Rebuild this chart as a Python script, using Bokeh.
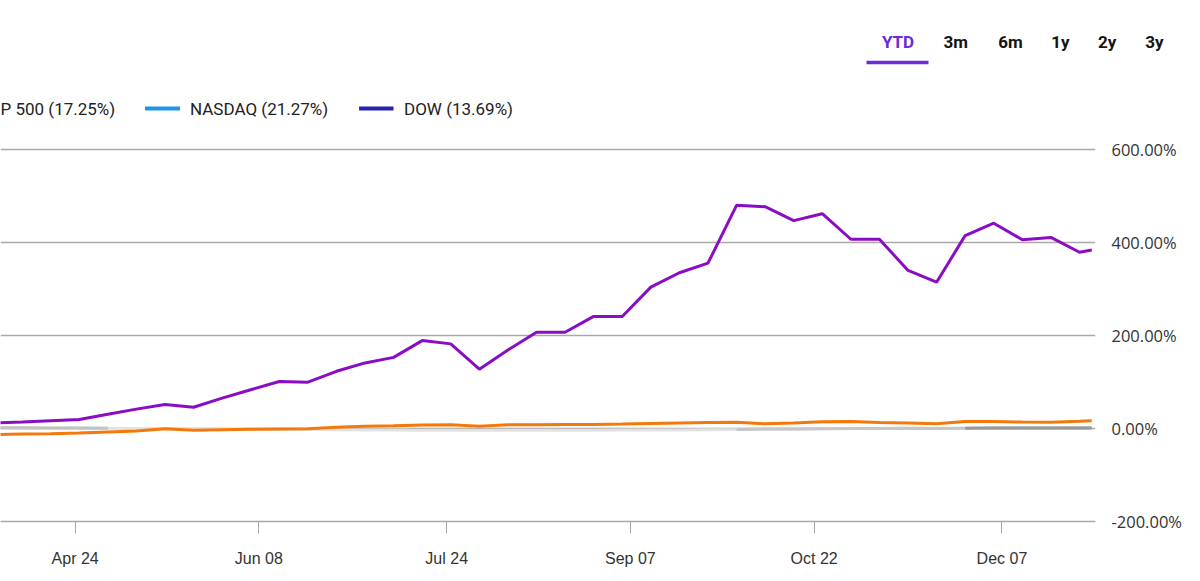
import datetime as dt
import pandas as pd
from bokeh.plotting import figure
from bokeh.models import Range1d, FixedTicker, PrintfTickFormatter, DatetimeTickFormatter
from bokeh.core.properties import value
from bokeh.embed import file_html
from bokeh.resources import INLINE

# ---------------- data ----------------
dates = ["2023-04-04", "2023-04-11", "2023-04-18", "2023-04-25",
         "2023-05-02", "2023-05-09", "2023-05-16", "2023-05-23", "2023-05-30",
         "2023-06-06", "2023-06-13", "2023-06-20", "2023-06-27",
         "2023-07-04", "2023-07-11", "2023-07-18", "2023-07-25",
         "2023-08-01", "2023-08-08", "2023-08-15", "2023-08-22", "2023-08-29",
         "2023-09-05", "2023-09-12", "2023-09-19", "2023-09-26",
         "2023-10-03", "2023-10-10", "2023-10-17", "2023-10-24", "2023-10-31",
         "2023-11-07", "2023-11-14", "2023-11-21", "2023-11-28",
         "2023-12-05", "2023-12-12", "2023-12-19", "2023-12-26", "2023-12-29"]

purple_vals = [11.8, 14.2, 16.8, 19.4,
               30.8, 41.7, 51.6, 45.8, 65.2,
               83.4, 101, 99.6, 123,
               141, 153, 189, 182,
               127.5, 168.6, 207, 207, 241,
               241, 304, 335, 355.5,
               480, 477, 447, 462, 407,
               407, 340, 314.6, 415,
               441.5, 406, 411, 379, 384]

orange_vals = [-13.5, -12, -11.4, -9.5,
               -7.5, -5.5, -0.6, -3.6, -2.5,
               -1.5, -1, -0.6, 2.9,
               5, 6, 7.5, 8,
               5, 8, 8.2, 8.4, 8.6,
               9.5, 11, 12, 13,
               13.6, 10, 12, 14.3, 15,
               13, 12, 10, 15,
               15, 14, 13.6, 15.5, 16.5]

gray_vals = [1.5, 1.5, 1.2, 1.0,
             0.5, 0, -0.5, -1, -1.5,
             -2, -2, -2, -2.5,
             -3, -3, -3.5, -4,
             -4, -4, -4, -4, -3.5,
             -3, -3, -3, -2.5,
             -2, -1, -1, -0.5, 0,
             0, 0.5, 0, 0.5,
             1, 1, 1, 1, 1]

tick_dates = ["2023-04-24", "2023-06-08", "2023-07-24", "2023-09-07", "2023-10-22", "2023-12-07"]
y_ticks = [-200, 0, 200, 400, 600]

range_labels = ["YTD", "3m", "6m", "1y", "2y", "3y"]
legend_labels = ["P 500 (17.25%)", "NASDAQ (21.27%)", "DOW (13.69%)"]

x = [pd.Timestamp(d) for d in dates]

# ---------------- header (legend + range buttons) ----------------
W = 1184
HH = 130
h = figure(width=W, height=HH, x_range=Range1d(0, W), y_range=Range1d(HH, 0),
           output_backend="svg", toolbar_location=None, min_border=0,
           x_axis_location=None, y_axis_location=None, outline_line_color=None)
h.grid.visible = False
h.min_border_left = h.min_border_right = h.min_border_top = h.min_border_bottom = 0

btn_x = [897.5, 955.3, 1010, 1060, 1106.7, 1154]
btn_colors = ["#6a2bd9"] + ["#141414"] * 5
h.text(x=btn_x, y=[41.5] * 6, text=range_labels, text_align="center", text_baseline="middle",
       text_font=value("Roboto"), text_font_size="17px", text_font_style="bold",
       text_color=btn_colors)
h.segment(x0=[866], y0=[62], x1=[928], y1=[62], line_color="#6a2bd9", line_width=3.5,
          line_cap="butt")

# legend
h.segment(x0=[144.5, 358.6], y0=[108, 108], x1=[179.6, 393], y1=[108, 108],
          line_color=["#1e96e8", "#2323b0"], line_width=4, line_cap="butt")
h.text(x=[0, 189.5, 403.5], y=[108, 108, 108], text=legend_labels, text_align="left",
       text_baseline="middle", text_font=value("Roboto"), text_font_size="17px",
       text_color="#222222")

# ---------------- chart ----------------
top_b, bot_b, right_b = 10, 52, 84
frame_h = 521 - (HH + top_b)
CH = top_b + frame_h + bot_b
px_per_pct = 93 / 200.0
y0 = -200
y1 = y0 + frame_h / px_per_pct

ref = dt.datetime(2023, 4, 24)
ppd = 931 / 227.0
x_start = ref - dt.timedelta(days=75 / ppd)
x_end = ref + dt.timedelta(days=(W - right_b - 75) / ppd)

p = figure(width=W, height=CH, x_axis_type="datetime", y_axis_location="right",
           x_range=Range1d(x_start, x_end), y_range=Range1d(y0, y1),
           output_backend="svg", toolbar_location=None,
           min_border_top=top_b, min_border_bottom=bot_b, min_border_left=0,
           min_border_right=right_b, outline_line_color=None)

p.xgrid.visible = False
p.ygrid.grid_line_color = "#a8a8a8"
p.ygrid.grid_line_width = 1.5
p.ygrid.ticker = FixedTicker(ticks=y_ticks)

ya = p.yaxis[0]
ya.ticker = FixedTicker(ticks=y_ticks)
ya.formatter = PrintfTickFormatter(format="%.2f%%")
ya.axis_line_color = None
ya.major_tick_line_color = None
ya.minor_tick_line_color = None
ya.major_label_standoff = 10
ya.major_label_text_font = "Open Sans"
ya.major_label_text_font_size = "16.5px"
ya.major_label_text_color = "#333333"

xa = p.xaxis[0]
xa.ticker = FixedTicker(ticks=[pd.Timestamp(d).value / 1e6 for d in tick_dates])
fmt = "%b %d"
xa.formatter = DatetimeTickFormatter(milliseconds=fmt, seconds=fmt, minsec=fmt, minutes=fmt,
                                     hourmin=fmt, hours=fmt, days=fmt, months=fmt, years=fmt)
xa.axis_line_color = "#a8a8a8"
xa.axis_line_width = 1.5
xa.major_tick_line_color = "#a8a8a8"
xa.major_tick_line_width = 1
xa.major_tick_out = 12
xa.major_tick_in = 0
xa.minor_tick_line_color = None
xa.major_label_standoff = 16
xa.major_label_text_font = "Liberation Sans"
xa.major_label_text_font_size = "16px"
xa.major_label_text_color = "#333333"

# gray series (fading in)
p.line(x, gray_vals, line_color="#e2e2e2", line_width=3)
p.line(x[:5], gray_vals[:5], line_color="#c2c2c2", line_width=3)
p.line(x[26:], gray_vals[26:], line_color="#c6c6c6", line_width=3)
p.line(x[34:], gray_vals[34:], line_color="#9a9a9a", line_width=3)

p.line(x, orange_vals, line_color="#f5780a", line_width=3)
p.line(x, purple_vals, line_color="#8a0cc4", line_width=3)

open("out.html", "w").write(file_html([h, p], INLINE))
